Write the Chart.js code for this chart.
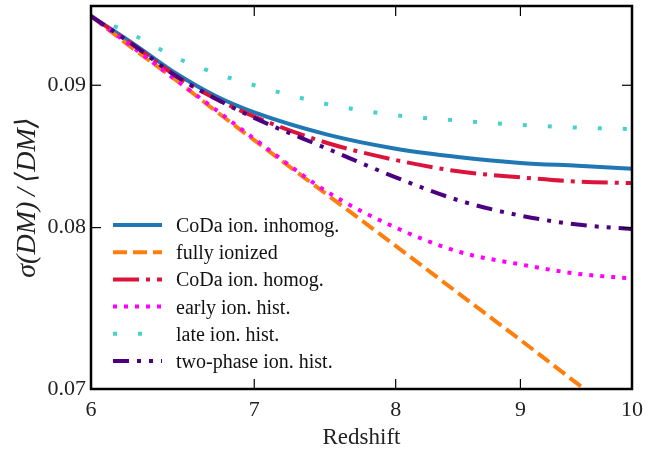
<!DOCTYPE html>
<html>
<head>
<meta charset="utf-8">
<script src="https://cdn.jsdelivr.net/npm/chart.js@4.4.1/dist/chart.umd.min.js"></script>
<style>
  html, body { margin: 0; padding: 0; background: #fff; }
  canvas { display: block; }
</style>
</head>
<body>
<canvas id="dmChart" width="672" height="449"></canvas>
<script>
// redshift grid and sigma(DM)/<DM> for each reionization model
const redshift = [6, 6.25, 6.5, 6.75, 7, 7.5, 8, 8.5, 9, 9.5, 10];
const codaInhomog = [0.0953, 0.0931, 0.0909, 0.0892, 0.0880, 0.0864, 0.0854, 0.0848, 0.0844, 0.0842, 0.0840];
const fullyIonized = [0.0953, 0.0927, 0.0904, 0.0881, 0.0860, 0.0822, 0.0788, 0.0757, 0.0729, 0.0703, 0.0680];
const codaHomog = [0.0953, 0.0930, 0.0907, 0.0890, 0.0877, 0.0858, 0.0846, 0.0838, 0.0834, 0.0831, 0.0830];
const earlyIon = [0.0953, 0.0928, 0.0904, 0.0882, 0.0861, 0.0824, 0.0800, 0.0784, 0.0776, 0.0770, 0.0767];
const lateIon = [0.0953, 0.0938, 0.0921, 0.0909, 0.0900, 0.0886, 0.0878, 0.0874, 0.0871, 0.0869, 0.0868];
const twoPhase = [0.0953, 0.0930, 0.0907, 0.0890, 0.0876, 0.0854, 0.0834, 0.0818, 0.0808, 0.0802, 0.0799];

const xTicks = [6, 7, 8, 9, 10];
const yTicks = [0.07, 0.08, 0.09];

const seriesLabels = ['CoDa ion. inhomog.', 'fully ionized', 'CoDa ion. homog.', 'early ion. hist.', 'late ion. hist.', 'two-phase ion. hist.'];
const seriesData = [codaInhomog, fullyIonized, codaHomog, earlyIon, lateIon, twoPhase];
const seriesColors = ['#1f77b4', '#ff7f0e', '#dc143c', '#ff00ff', '#48d1cc', '#4b0082'];
const seriesDash = [[], [14, 6], [26, 7, 4, 7], [4, 7], [4, 21], [16, 8, 4, 8, 4, 8]];

const serif = "'Liberation Serif', 'DejaVu Serif', serif";

const datasets = seriesLabels.map((label, i) => ({
    label: label,
    data: redshift.map((z, k) => ({ x: z, y: seriesData[i][k] })),
    borderColor: seriesColors[i],
    borderDash: seriesDash[i],
    borderWidth: 4,
    pointRadius: 0,
    fill: false,
    cubicInterpolationMode: 'monotone',
    order: seriesLabels.length - i
}));

// frame, inward ticks and legend inside the plot
const framePlugin = {
    id: 'frame',
    afterDraw(chart) {
        const { ctx, chartArea: a, scales: { x, y } } = chart;
        ctx.save();
        ctx.strokeStyle = '#000';
        ctx.lineWidth = 1.2;
        const line = (x1, y1, x2, y2) => {
            ctx.beginPath();
            ctx.moveTo(x1, y1);
            ctx.lineTo(x2, y2);
            ctx.stroke();
        };
        xTicks.forEach(v => {
            const px = x.getPixelForValue(v);
            line(px, a.bottom, px, a.bottom - 10);
            line(px, a.top, px, a.top + 10);
        });
        yTicks.forEach(v => {
            const py = y.getPixelForValue(v);
            line(a.left, py, a.left + 10, py);
            line(a.right, py, a.right - 10, py);
        });
        ctx.lineWidth = 2.5;
        ctx.strokeRect(a.left, a.top, a.right - a.left, a.bottom - a.top);

        // legend
        ctx.font = "20px " + serif;
        ctx.fillStyle = '#111';
        ctx.textBaseline = 'alphabetic';
        seriesLabels.forEach((label, i) => {
            const ly = a.bottom - 164 + i * 27.2;
            ctx.strokeStyle = seriesColors[i];
            ctx.lineWidth = 4;
            ctx.setLineDash(seriesDash[i]);
            line(a.left + 22, ly, a.left + 71, ly);
            ctx.setLineDash([]);
            ctx.fillText(label, a.left + 85, ly + 7);
        });
        ctx.restore();
    }
};

new Chart(document.getElementById('dmChart').getContext('2d'), {
    type: 'line',
    data: { datasets: datasets },
    options: {
        responsive: false,
        animation: false,
        devicePixelRatio: 1,
        layout: { padding: { left: 0, right: 40, top: 6, bottom: 0 } },
        plugins: {
            legend: { display: false },
            tooltip: { enabled: false }
        },
        scales: {
            x: {
                type: 'logarithmic',
                min: 6,
                max: 10,
                afterBuildTicks: s => { s.ticks = xTicks.map(v => ({ value: v })); },
                afterFit: s => { s.height = 60; s.paddingLeft = 0; s.paddingRight = 0; },
                grid: { display: false, drawTicks: false },
                border: { display: false },
                ticks: {
                    callback: v => String(v),
                    font: { family: serif, size: 22 },
                    color: '#222',
                    padding: 8,
                    maxRotation: 0,
                    autoSkip: false
                },
                title: {
                    display: true,
                    text: 'Redshift',
                    font: { family: serif, size: 23, lineHeight: 1.0 },
                    color: '#222',
                    padding: { top: 0, bottom: 0 }
                }
            },
            y: {
                type: 'logarithmic',
                min: 0.07,
                max: 0.0961,
                afterBuildTicks: s => { s.ticks = yTicks.map(v => ({ value: v })); },
                afterFit: s => { s.width = 91; s.paddingTop = 0; s.paddingBottom = 0; },
                grid: { display: false, drawTicks: false },
                border: { display: false },
                ticks: {
                    callback: v => Number(v).toFixed(2),
                    font: { family: serif, size: 22 },
                    color: '#222',
                    padding: 5,
                    autoSkip: false
                },
                title: {
                    display: true,
                    text: 'σ(DM)\u2009/\u2009⟨DM⟩',
                    font: { family: serif, size: 28, style: 'italic' },
                    color: '#222',
                    padding: { top: 11, bottom: 0 }
                }
            }
        }
    },
    plugins: [framePlugin]
});
</script>
</body>
</html>
